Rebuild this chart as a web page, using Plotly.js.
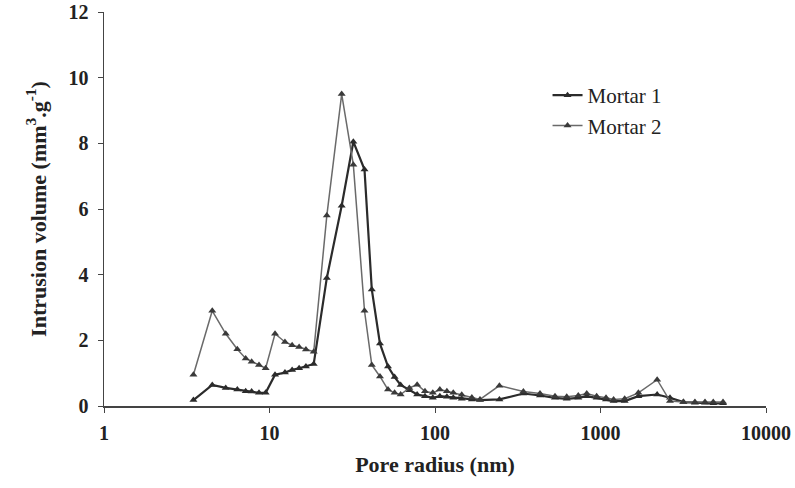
<!DOCTYPE html>
<html>
<head>
<meta charset="utf-8">
<script src="https://cdn.plot.ly/plotly-3.0.1.min.js"></script>
<style>html,body{margin:0;padding:0;background:#fff;}#chart{width:795px;height:488px;}</style>
</head>
<body>
<div id="chart"></div>
<script>
const poreRadius = [3.47, 4.51, 5.44, 6.39, 7.18, 7.8, 8.64, 9.48, 10.8, 12.4, 13.7, 15.1, 16.6, 18.5, 22.2, 27.3, 32.1, 37.5, 41.5, 46.5, 52, 57, 62, 70, 78, 87, 97, 107, 118, 129, 145, 167, 187, 245, 342, 431, 531, 625, 734, 826, 948, 1080, 1200, 1400, 1694, 2200, 2630, 3170, 3720, 4280, 4800, 5500];
const mortar1 = [0.18, 0.64, 0.55, 0.5, 0.45, 0.44, 0.4, 0.4, 0.95, 1.02, 1.1, 1.15, 1.2, 1.28, 3.9, 6.1, 8.05, 7.2, 3.55, 1.9, 1.2, 0.88, 0.64, 0.48, 0.35, 0.3, 0.25, 0.3, 0.28, 0.25, 0.22, 0.2, 0.18, 0.2, 0.38, 0.32, 0.25, 0.22, 0.25, 0.3, 0.25, 0.2, 0.15, 0.15, 0.3, 0.35, 0.25, 0.12, 0.1, 0.1, 0.08, 0.08];
const mortar2 = [0.95, 2.9, 2.2, 1.73, 1.45, 1.35, 1.25, 1.15, 2.2, 1.95, 1.85, 1.8, 1.72, 1.65, 5.8, 9.5, 7.35, 2.9, 1.25, 0.9, 0.5, 0.4, 0.35, 0.55, 0.65, 0.45, 0.4, 0.5, 0.45, 0.4, 0.34, 0.26, 0.2, 0.62, 0.44, 0.38, 0.3, 0.28, 0.32, 0.38, 0.3, 0.25, 0.2, 0.22, 0.4, 0.8, 0.15, 0.12, 0.12, 0.12, 0.12, 0.12];
const seriesNames = ["Mortar 1", "Mortar 2"];
const xTickVals = [1, 10, 100, 1000, 10000];
const xTickText = ["1", "10", "100", "1000", "10000"];

const serif = "Liberation Serif, Times New Roman, serif";
const traces = [
  {x: poreRadius, y: mortar1, name: seriesNames[0], mode: "lines+markers",
   line: {color: "#2b2b2b", width: 2.2},
   marker: {symbol: "triangle-up", size: 7, color: "#2b2b2b"}},
  {x: poreRadius, y: mortar2, name: seriesNames[1], mode: "lines+markers",
   line: {color: "#6a6a6a", width: 1.5},
   marker: {symbol: "triangle-up", size: 7, color: "#3a3a3a"}}
];
const layout = {
  width: 795, height: 488,
  margin: {l: 104, r: 29, t: 12, b: 82},
  paper_bgcolor: "#fff", plot_bgcolor: "#fff",
  font: {family: serif, color: "#222"},
  showlegend: true,
  legend: {x: 0.67, y: 0.84, xanchor: "left", yanchor: "top",
    font: {family: serif, size: 21, color: "#222"}, bgcolor: "rgba(0,0,0,0)",
    tracegroupgap: 0, itemwidth: 30},
  xaxis: {type: "log", range: [0, 4], tickvals: xTickVals, ticktext: xTickText,
    showgrid: false, zeroline: false, showline: true, linecolor: "#444", linewidth: 1.5,
    ticks: "outside", ticklen: 5, tickcolor: "#444", ticklabelstandoff: 3,
    tickfont: {family: serif, size: 20, color: "#222", weight: "bold"},
    title: {text: "<b>Pore radius (nm)</b>", font: {family: serif, size: 22, color: "#222"}, standoff: 14}},
  yaxis: {range: [0, 12], dtick: 2, showgrid: false, zeroline: false,
    showline: true, linecolor: "#444", linewidth: 1.5,
    ticks: "outside", ticklen: 5, tickcolor: "#444", ticklabelstandoff: 5,
    tickfont: {family: serif, size: 20, color: "#222", weight: "bold"},
    title: {text: "<b>Intrusion volume (mm<sup>3</sup>.g<sup>-1</sup>)</b>", font: {family: serif, size: 22, color: "#222"}, standoff: 16}}
};
Plotly.newPlot("chart", traces, layout, {displayModeBar: false, staticPlot: true});
</script>
</body>
</html>
